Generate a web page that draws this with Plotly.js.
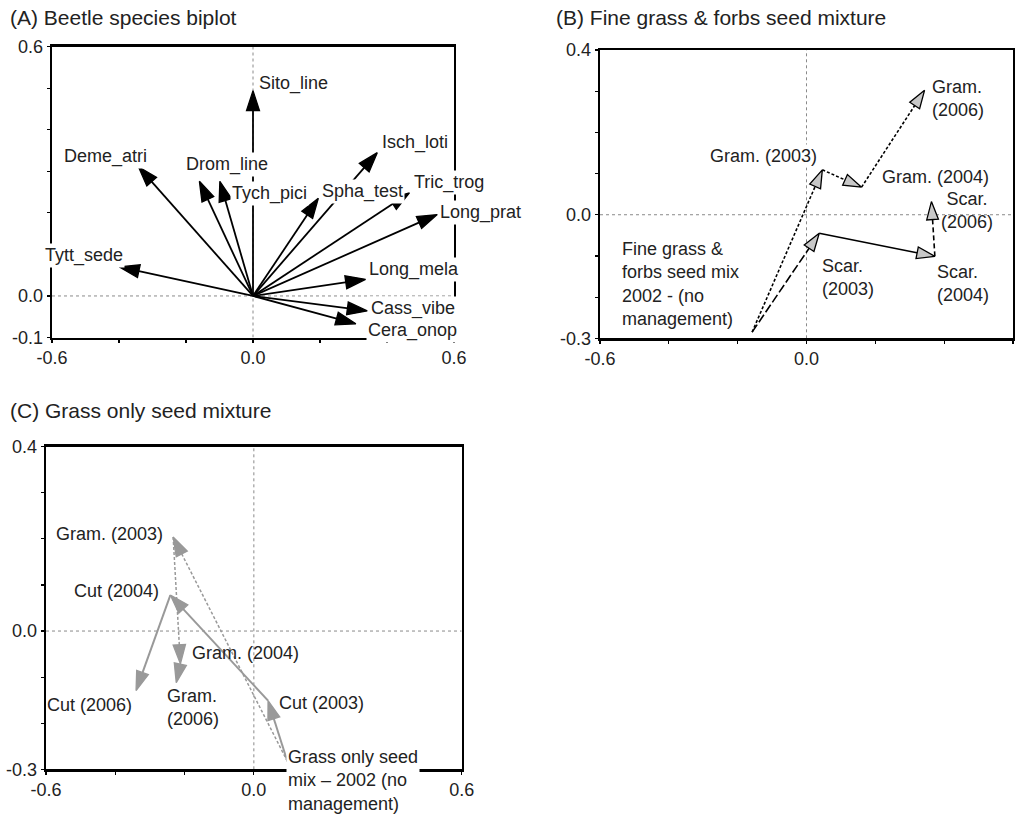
<!DOCTYPE html>
<html>
<head>
<meta charset="utf-8">
<script src="https://cdn.plot.ly/plotly-3.0.1.min.js"></script>
<style>html,body{margin:0;padding:0;background:#fff;}#chart{width:1025px;height:815px;}</style>
</head>
<body>
<div id="chart"></div>
<script>
// ---------- DATA ----------
// Panel A: beetle species biplot (arrow tips from origin)
const speciesNames = ['Sito_line','Isch_loti','Deme_atri','Drom_line','Tych_pici','Spha_test','Tric_trog','Long_prat','Tytt_sede','Long_mela','Cass_vibe','Cera_onop'];
const speciesX = [0.000, 0.371, -0.342, -0.160, -0.099, 0.195, 0.467, 0.550, -0.399, 0.336, 0.341, 0.307];
const speciesY = [0.494, 0.345, 0.311, 0.276, 0.276, 0.235, 0.248, 0.196, 0.070, 0.040, -0.036, -0.067];

// Panel B: fine grass & forbs seed mixture trajectories
const gramBLabels = ['Fine grass &<br>forbs seed mix<br>2002 - (no<br>management)', 'Gram. (2003)', 'Gram. (2004)', 'Gram.<br>(2006)'];
const gramBX = [-0.158, 0.046, 0.160, 0.343];
const gramBY = [-0.285, 0.109, 0.067, 0.302];
const scarBLabels = ['', 'Scar.<br>(2003)', 'Scar.<br>(2004)', 'Scar.<br>(2006)'];
const scarBX = [-0.158, 0.037, 0.373, 0.363];
const scarBY = [-0.285, -0.045, -0.101, 0.032];

// Panel C: grass only seed mixture trajectories
const gramCLabels = ['Grass only seed<br>mix \u2013 2002 (no<br>management)', 'Gram. (2003)', 'Gram. (2004)', 'Gram.<br>(2006)'];
const gramCX = [0.097, -0.233, -0.212, -0.224];
const gramCY = [-0.283, 0.204, -0.071, -0.112];
const cutCLabels = ['', 'Cut (2003)', 'Cut (2004)', 'Cut (2006)'];
const cutCX = [0.097, 0.041, -0.241, -0.340];
const cutCY = [-0.283, -0.151, 0.078, -0.129];

// Tick values / labels
const xTickVals = [-0.6, -0.4, -0.2, 0.0, 0.2, 0.4, 0.6];
const xTickText = ['-0.6', '', '', '0.0', '', '', '0.6'];
const yTickValsA = [-0.1, 0.0, 0.1, 0.2, 0.3, 0.4, 0.5, 0.6];
const yTickTextA = ['-0.1', '0.0', '', '', '', '', '', '0.6'];
const yTickValsBC = [-0.3, -0.2, -0.1, 0.0, 0.1, 0.2, 0.3, 0.4];
const yTickTextBC = ['-0.3', '', '', '0.0', '', '', '', '0.4'];

// ---------- STYLE / LAYOUT ----------
const FONT = 'Liberation Sans, Arial, Helvetica, sans-serif';
const W = 1025, H = 815;
const px = v => v / W, py = v => 1 - v / H;

function axis(domain, range, tv, tt, anchor) {
  return {
    domain: domain, range: range, tickmode: 'array', tickvals: tv, ticktext: tt,
    showgrid: false, zeroline: false, showline: true, mirror: true,
    linecolor: '#000', linewidth: 2.3, ticks: 'outside', ticklen: 3, tickwidth: 1.2,
    tickcolor: '#000', tickfont: {family: FONT, size: 18, color: '#222'},
    anchor: anchor, fixedrange: true
  };
}

const traces = [];
function seg(xa, ya, x0, y0, x1, y1, color, width, dash, fill, outline, msize) {
  traces.push({
    type: 'scatter', mode: 'lines+markers', xaxis: xa, yaxis: ya,
    x: [x0, x1], y: [y0, y1], hoverinfo: 'skip', showlegend: false,
    line: {color: color, width: width, dash: dash},
    marker: {symbol: 'arrow', angleref: 'previous', size: [0, msize], color: fill, opacity: 1,
             line: {color: outline, width: 1.3}}
  });
}

// Panel A arrows
for (let i = 0; i < speciesNames.length; i++) {
  seg('x', 'y', 0, 0, speciesX[i], speciesY[i], '#000', 1.8, 'solid', '#000', '#000', 21);
}
// Panel B arrows
const bStyles = {gram: ['3px,2px', '3px,2px', '3px,2px'], scar: ['9px,3px', 'solid', '5px,3px']};
for (let i = 1; i < gramBX.length; i++) {
  seg('x2', 'y2', gramBX[i-1], gramBY[i-1], gramBX[i], gramBY[i], '#000', 1.6, bStyles.gram[i-1], '#c8c8c8', '#000', 19);
}
for (let i = 1; i < scarBX.length; i++) {
  seg('x2', 'y2', scarBX[i-1], scarBY[i-1], scarBX[i], scarBY[i], '#000', 1.6, bStyles.scar[i-1], '#c8c8c8', '#000', 19);
}
// Panel C arrows
for (let i = 1; i < gramCX.length; i++) {
  seg('x3', 'y3', gramCX[i-1], gramCY[i-1], gramCX[i], gramCY[i], '#999', 1.5, '3px,2px', '#999', '#999', 20);
}
for (let i = 1; i < cutCX.length; i++) {
  seg('x3', 'y3', cutCX[i-1], cutCY[i-1], cutCX[i], cutCY[i], '#999', 2, 'solid', '#999', '#999', 20);
}

// ---------- ANNOTATIONS ----------
const ann = [];
function lab(xr, yr, x, y, text, xanchor, dx, dy, bg, align) {
  ann.push({xref: xr, yref: yr, x: x, y: y, text: text, showarrow: false,
    xanchor: xanchor, yanchor: 'middle', xshift: dx, yshift: dy, align: align || 'left',
    bgcolor: bg ? '#fff' : 'rgba(0,0,0,0)', borderpad: 1,
    font: {family: FONT, size: 18, color: '#222'}});
}
// Label placement offsets (px) for panel A
const aPlace = [
  ['left', 4, 7], ['left', 3, 10], ['center', -33, 10], ['center', 28, 17],
  ['left', 10, -12], ['left', 2, 7], ['left', 3, 10], ['left', 1, 2],
  ['center', -35, 11], ['left', 1, 10], ['left', 2, 2], ['left', 10, -7]
];
for (let i = 0; i < speciesNames.length; i++) {
  const p = aPlace[i];
  lab('x', 'y', speciesX[i], speciesY[i], speciesNames[i], p[0], p[1], p[2], true);
}
// Panel B
const gramBPlace = [['left', -132, 48], ['center', -59, 14], ['left', 18, 10], ['left', 5, -8]];
const scarBPlace = [null, ['left', 1, -44], ['left', 0, -27], ['center', 36, -9]];
for (let i = 0; i < gramBX.length; i++) {
  const p = gramBPlace[i];
  lab('x2', 'y2', gramBX[i], gramBY[i], gramBLabels[i], p[0], p[1], p[2], i === 1);
}
for (let i = 1; i < scarBX.length; i++) {
  const p = scarBPlace[i];
  lab('x2', 'y2', scarBX[i], scarBY[i], scarBLabels[i], p[0], p[1], p[2], false, i === 3 ? 'center' : 'left');
}
// Panel C
const gramCPlace = [['left', -1, -19], ['right', -8, 3], ['left', 10, 11], ['left', -11, -25]];
const cutCPlace = [null, ['left', 9, -2], ['right', -9, 4], ['right', -2, -15]];
for (let i = 0; i < gramCX.length; i++) {
  const p = gramCPlace[i];
  lab('x3', 'y3', gramCX[i], gramCY[i], gramCLabels[i], p[0], p[1], p[2], i === 0);
}
for (let i = 1; i < cutCX.length; i++) {
  const p = cutCPlace[i];
  lab('x3', 'y3', cutCX[i], cutCY[i], cutCLabels[i], p[0], p[1], p[2], false);
}
// Panel titles
const titles = [['(A) Beetle species biplot', 8, 18], ['(B) Fine grass & forbs seed mixture', 554, 18], ['(C) Grass only seed mixture', 8, 410]];
titles.forEach(t => ann.push({xref: 'paper', yref: 'paper', x: px(t[1]), y: py(t[2]), text: t[0],
  showarrow: false, xanchor: 'left', yanchor: 'middle', font: {family: FONT, size: 21, color: '#222'}}));

// Zero reference lines
const shapes = [];
function zl(xr, yr, xrange, yrange) {
  const st = {color: '#8a8a8a', width: 1, dash: 'dot'};
  shapes.push({type: 'line', xref: xr, yref: yr, x0: 0, x1: 0, y0: yrange[0], y1: yrange[1], line: st, layer: 'below'});
  shapes.push({type: 'line', xref: xr, yref: yr, x0: xrange[0], x1: xrange[1], y0: 0, y1: 0, line: st, layer: 'below'});
}
zl('x', 'y', [-0.6, 0.6], [-0.1, 0.6]);
zl('x2', 'y2', [-0.6, 0.6], [-0.3, 0.4]);
zl('x3', 'y3', [-0.6, 0.6], [-0.3, 0.4]);

const layout = {
  width: W, height: H, margin: {l: 0, r: 0, t: 0, b: 0},
  paper_bgcolor: '#fff', plot_bgcolor: '#fff', showlegend: false,
  font: {family: FONT, size: 18, color: '#222'},
  xaxis: axis([px(52), px(454)], [-0.6, 0.6], xTickVals, xTickText, 'y'),
  yaxis: axis([py(337.5), py(46.7)], [-0.1, 0.6], yTickValsA, yTickTextA, 'x'),
  xaxis2: axis([px(600), px(1013)], [-0.6, 0.6], xTickVals, xTickText, 'y2'),
  yaxis2: axis([py(338.3), py(50)], [-0.3, 0.4], yTickValsBC, yTickTextBC, 'x2'),
  xaxis3: axis([px(46), px(461.7)], [-0.6, 0.6], xTickVals, xTickText, 'y3'),
  yaxis3: axis([py(769.3), py(446.7)], [-0.3, 0.4], yTickValsBC, yTickTextBC, 'x3'),
  annotations: ann, shapes: shapes
};

Plotly.newPlot('chart', traces, layout, {staticPlot: true, displayModeBar: false});
</script>
</body>
</html>
